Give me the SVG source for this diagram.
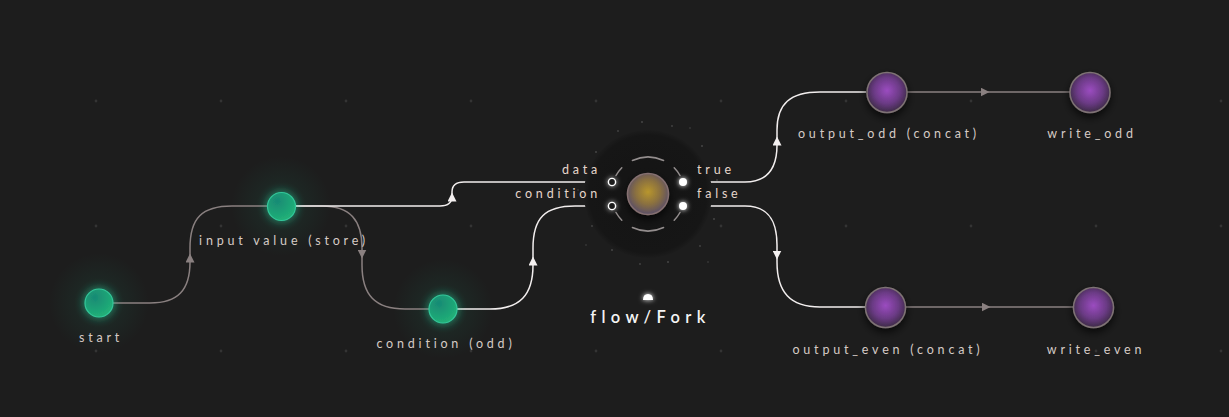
<svg xmlns="http://www.w3.org/2000/svg" width="1229" height="417" viewBox="0 0 1229 417">
<defs>
<style>
.lbl{font-family:"Lato","Liberation Sans",sans-serif;font-size:12.5px;letter-spacing:3.8px;fill:#d6cbc6;text-anchor:middle}
.plbl{font-family:"Lato","Liberation Sans",sans-serif;font-size:12.5px;letter-spacing:3.8px;fill:#e6d6cc}
.eg{fill:none;stroke:#8a8080;stroke-width:1.5}
.ew{fill:none;stroke:#f2eeee;stroke-width:1.5}
.gdot{fill:#343434}
.gnode{fill:url(#gGreen);stroke:#33c79a;stroke-width:1.2;filter:url(#fGreen)}
.pnode{fill:url(#gPurple);stroke:#7e7274;stroke-width:1.5;filter:url(#fShadow)}
.ring{fill:none;stroke:#bdb6b6;stroke-width:1.5;stroke-linecap:round;opacity:.75}
.spark{fill:#ffffff;opacity:.18}
</style>
<radialGradient id="gGreen" cx="0.35" cy="0.3" r="0.8">
<stop offset="0" stop-color="#188a74"/>
<stop offset="1" stop-color="#22b578"/>
</radialGradient>
<radialGradient id="gPurple" cx="0.5" cy="0.45" r="0.55">
<stop offset="0" stop-color="#9b4cc0"/>
<stop offset="0.6" stop-color="#6a3a84"/>
<stop offset="1" stop-color="#3c2a45"/>
</radialGradient>
<radialGradient id="gCore" cx="0.5" cy="0.45" r="0.55">
<stop offset="0" stop-color="#b8962c"/>
<stop offset="0.55" stop-color="#8a7040"/>
<stop offset="1" stop-color="#5a4e68"/>
</radialGradient>
<radialGradient id="gGlow">
<stop offset="0" stop-color="#1fb889" stop-opacity="0.22"/>
<stop offset="0.5" stop-color="#1fb889" stop-opacity="0.06"/>
<stop offset="1" stop-color="#1fb889" stop-opacity="0"/>
</radialGradient>
<radialGradient id="gDark">
<stop offset="0" stop-color="#141414"/>
<stop offset="0.92" stop-color="#161616"/>
<stop offset="1" stop-color="#1c1c1c"/>
</radialGradient>
<filter id="fGreen" x="-1" y="-1" width="3" height="3">
<feGaussianBlur in="SourceAlpha" stdDeviation="4" result="blur"/>
<feFlood flood-color="#2bd6a0" flood-opacity="0.6"/>
<feComposite operator="in" in2="blur"/>
<feMerge><feMergeNode/><feMergeNode in="SourceGraphic"/></feMerge>
</filter>
<filter id="fShadow" x="-1" y="-1" width="3" height="3">
<feGaussianBlur in="SourceAlpha" stdDeviation="4"/>
<feOffset dy="4"/>
<feComponentTransfer><feFuncA type="linear" slope="0.7"/></feComponentTransfer>
<feMerge><feMergeNode/><feMergeNode in="SourceGraphic"/></feMerge>
</filter>
<filter id="fWhite" x="-2" y="-2" width="5" height="5">
<feGaussianBlur in="SourceGraphic" stdDeviation="2.5" result="b"/>
<feMerge><feMergeNode in="b"/><feMergeNode in="SourceGraphic"/></feMerge>
</filter>
<marker id="mG" viewBox="0 0 10 10" refX="5" refY="5" markerWidth="9" markerHeight="9" markerUnits="userSpaceOnUse" orient="auto">
<path d="M0,0 L10,5 L0,10 Z" fill="#8a8080"/>
</marker>
<marker id="mW" viewBox="0 0 10 10" refX="5" refY="5" markerWidth="9" markerHeight="9" markerUnits="userSpaceOnUse" orient="auto">
<path d="M0,0 L10,5 L0,10 Z" fill="#f4f0f0"/>
</marker>
</defs>

<rect width="1229" height="417" fill="#1d1d1d"/>

<g id="grid">
<circle class="gdot" cx="96" cy="101" r="1.4"/><circle class="gdot" cx="221" cy="101" r="1.4"/><circle class="gdot" cx="346" cy="101" r="1.4"/><circle class="gdot" cx="471" cy="101" r="1.4"/><circle class="gdot" cx="596" cy="101" r="1.4"/><circle class="gdot" cx="721" cy="101" r="1.4"/><circle class="gdot" cx="846" cy="101" r="1.4"/><circle class="gdot" cx="971" cy="101" r="1.4"/><circle class="gdot" cx="1096" cy="101" r="1.4"/><circle class="gdot" cx="1221" cy="101" r="1.4"/>
<circle class="gdot" cx="96" cy="226" r="1.4"/><circle class="gdot" cx="221" cy="226" r="1.4"/><circle class="gdot" cx="346" cy="226" r="1.4"/><circle class="gdot" cx="471" cy="226" r="1.4"/><circle class="gdot" cx="596" cy="226" r="1.4"/><circle class="gdot" cx="721" cy="226" r="1.4"/><circle class="gdot" cx="846" cy="226" r="1.4"/><circle class="gdot" cx="971" cy="226" r="1.4"/><circle class="gdot" cx="1096" cy="226" r="1.4"/><circle class="gdot" cx="1221" cy="226" r="1.4"/>
<circle class="gdot" cx="96" cy="351" r="1.4"/><circle class="gdot" cx="221" cy="351" r="1.4"/><circle class="gdot" cx="346" cy="351" r="1.4"/><circle class="gdot" cx="471" cy="351" r="1.4"/><circle class="gdot" cx="596" cy="351" r="1.4"/><circle class="gdot" cx="721" cy="351" r="1.4"/><circle class="gdot" cx="846" cy="351" r="1.4"/><circle class="gdot" cx="971" cy="351" r="1.4"/><circle class="gdot" cx="1096" cy="351" r="1.4"/><circle class="gdot" cx="1221" cy="351" r="1.4"/>
</g>

<g id="glows">
<circle cx="99" cy="303" r="50" fill="url(#gGlow)"/>
<circle cx="281" cy="206" r="50" fill="url(#gGlow)"/>
<circle cx="443" cy="309" r="50" fill="url(#gGlow)"/>
</g>

<g id="connectors">
<path class="eg" d="M113,303 H150 C178,303 190,290 190,262 V248 C190,218 202,206 232,206 H267"/>
<path d="M190,260 L190,258" fill="none" stroke="none" marker-end="url(#mG)"/>
<path class="eg" d="M296,206 H322 C350,206 362,220 362,248 V265 C362,295 375,309 405,309 H429"/>
<path d="M362,252 L362,254" fill="none" stroke="none" marker-end="url(#mG)"/>
<path class="ew" d="M296,206 H440 C449,206 452,202 452,196 V192 C452,185 456,182 464,182 H608"/>
<path d="M452,199 L452,197" fill="none" stroke="none" marker-end="url(#mW)"/>
<path class="ew" d="M457,309 H490 C520,309 533,295 533,265 V248 C533,218 545,206 575,206 H608"/>
<path d="M533,263 L533,261" fill="none" stroke="none" marker-end="url(#mW)"/>
<path class="ew" d="M687,182 H745 C768,182 777,168 777,145 V130 C777,104 790,92 820,92 H866"/>
<path d="M777,143 L777,141" fill="none" stroke="none" marker-end="url(#mW)"/>
<path class="ew" d="M687,206 H745 C768,206 777,220 777,245 V262 C777,292 790,307 820,307 H865"/>
<path d="M777,253 L777,255" fill="none" stroke="none" marker-end="url(#mW)"/>
<path class="eg" d="M907,92 H1070"/>
<path d="M983,92 L985,92" fill="none" stroke="none" marker-end="url(#mG)"/>
<path class="eg" d="M906,307 H1073"/>
<path d="M984,307 L986,307" fill="none" stroke="none" marker-end="url(#mG)"/>
</g>

<g id="fork">
<circle cx="648" cy="194" r="64" fill="url(#gDark)"/>
<g class="sparks">
<circle class="spark" cx="596" cy="152" r="1"/><circle class="spark" cx="618" cy="131" r="0.9"/><circle class="spark" cx="642" cy="122" r="1"/><circle class="spark" cx="672" cy="126" r="0.9"/><circle class="spark" cx="702" cy="146" r="1"/><circle class="spark" cx="717" cy="180" r="0.9"/><circle class="spark" cx="714" cy="219" r="1"/><circle class="spark" cx="700" cy="246" r="0.9"/><circle class="spark" cx="668" cy="262" r="1"/><circle class="spark" cx="640" cy="264" r="0.9"/><circle class="spark" cx="612" cy="250" r="1"/><circle class="spark" cx="592" cy="226" r="0.9"/><circle class="spark" cx="578" cy="190" r="0.8"/><circle class="spark" cx="586" cy="245" r="0.8"/><circle class="spark" cx="708" cy="262" r="0.8"/><circle class="spark" cx="690" cy="128" r="0.8"/>
</g>
<path class="ring" d="M632.4,160.5 A37,37 0 0 1 663.6,160.5"/>
<path class="ring" d="M674.2,167.8 A37,37 0 0 1 680.0,175.5"/>
<path class="ring" d="M680.0,212.5 A37,37 0 0 1 674.2,220.2"/>
<path class="ring" d="M663.6,227.5 A37,37 0 0 1 632.4,227.5"/>
<path class="ring" d="M621.8,220.2 A37,37 0 0 1 616.0,212.5"/>
<path class="ring" d="M616.0,175.5 A37,37 0 0 1 621.8,167.8"/>
<circle cx="648" cy="194" r="20.5" fill="url(#gCore)" stroke="#857070" stroke-width="1.5" filter="url(#fShadow)"/>
<g filter="url(#fWhite)">
<circle cx="612" cy="182" r="3.6" fill="#1d1d1d" stroke="#ffffff" stroke-width="1.4"/>
<circle cx="612" cy="206" r="3.6" fill="#1d1d1d" stroke="#ffffff" stroke-width="1.4"/>
<circle cx="683" cy="182" r="4" fill="#ffffff"/>
<circle cx="683" cy="206" r="4" fill="#ffffff"/>
</g>
<text class="plbl" x="601" y="174" text-anchor="end">data</text>
<text class="plbl" x="601" y="198" text-anchor="end">condition</text>
<text class="plbl" x="697" y="174">true</text>
<text class="plbl" x="697" y="198">false</text>
<path d="M643,300 Q643,294 648,294 Q653,294 653,300 Z" fill="#ffffff" filter="url(#fWhite)"/>
<text x="650.5" y="323" text-anchor="middle" font-family="Lato,'Liberation Sans',sans-serif" font-size="16.5" font-weight="600" letter-spacing="5.4" fill="#f4f4f4">flow/Fork</text>
</g>

<g id="node-start">
<circle class="gnode" cx="99" cy="303" r="14"/>
<text class="lbl" x="101" y="342">start</text>
</g>
<g id="node-input">
<circle class="gnode" cx="281.5" cy="206.5" r="14"/>
<text class="lbl" x="284" y="245">input value (store)</text>
</g>
<g id="node-condition">
<circle class="gnode" cx="443" cy="309" r="14"/>
<text class="lbl" x="446" y="348">condition (odd)</text>
</g>
<g id="node-output-odd">
<circle class="pnode" cx="887" cy="92.5" r="20"/>
<text class="lbl" x="889" y="138">output_odd (concat)</text>
</g>
<g id="node-write-odd">
<circle class="pnode" cx="1090" cy="92.5" r="20"/>
<text class="lbl" x="1092" y="138">write_odd</text>
</g>
<g id="node-output-even">
<circle class="pnode" cx="885.5" cy="307.5" r="20"/>
<text class="lbl" x="888" y="354">output_even (concat)</text>
</g>
<g id="node-write-even">
<circle class="pnode" cx="1093.5" cy="307.5" r="20"/>
<text class="lbl" x="1096" y="354">write_even</text>
</g>
</svg>
